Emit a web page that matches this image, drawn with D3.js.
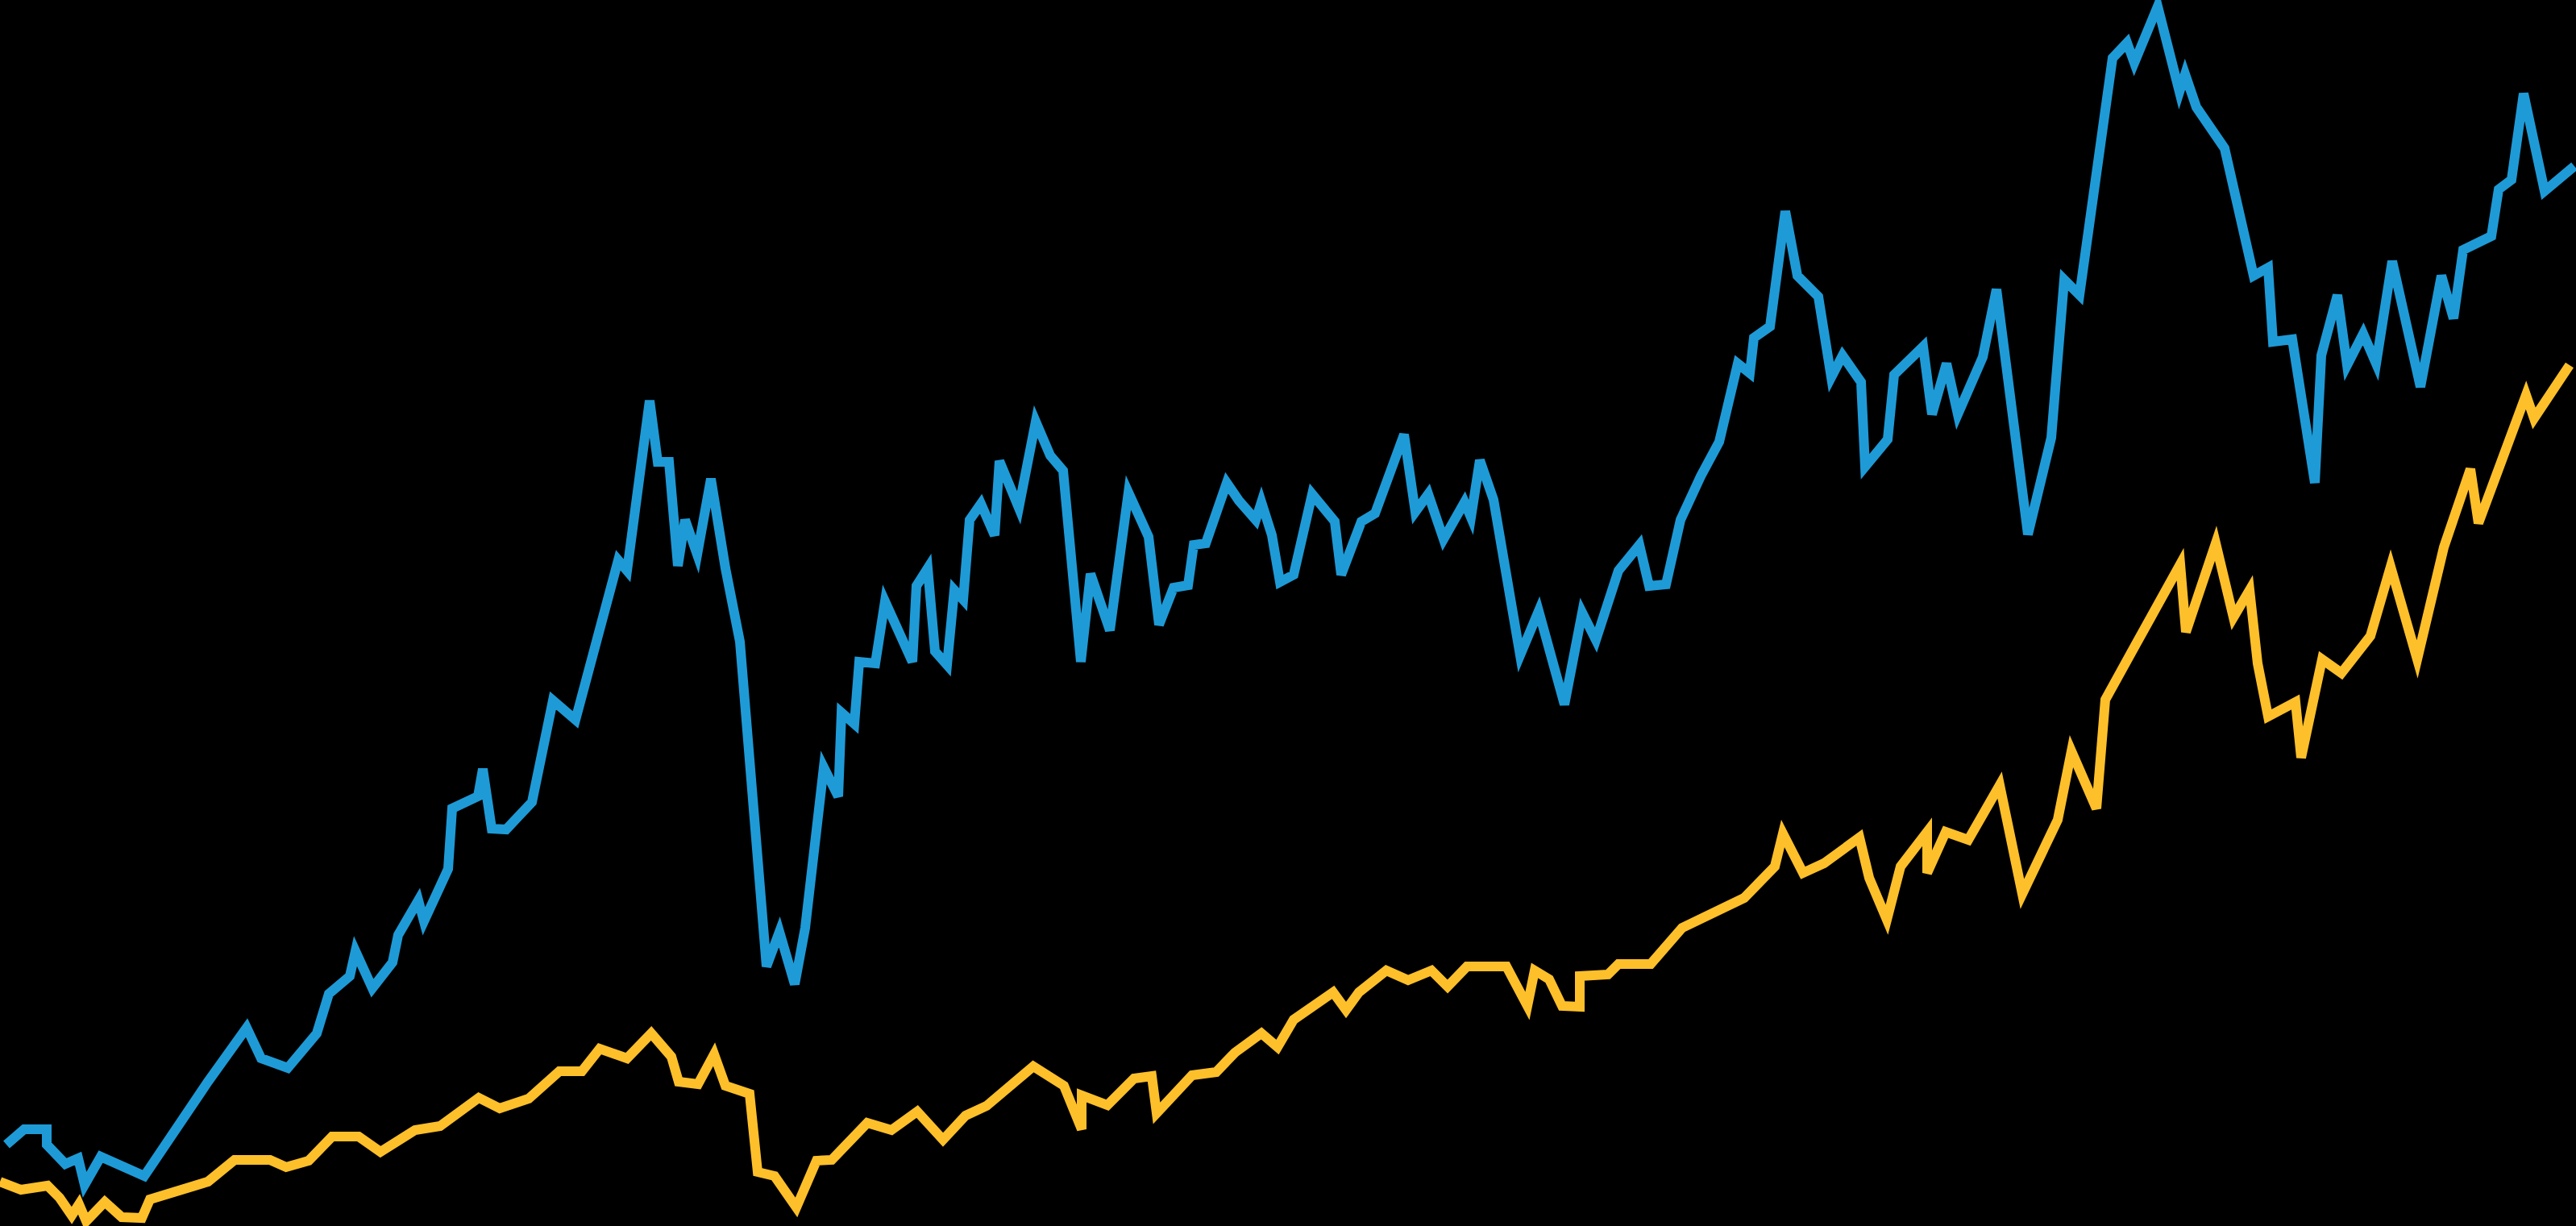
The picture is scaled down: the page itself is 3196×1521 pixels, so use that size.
<!DOCTYPE html>
<html>
<head>
<meta charset="utf-8">
<script src="https://cdn.jsdelivr.net/npm/d3@7"></script>
<style>
  html, body { margin: 0; padding: 0; background: #000; overflow: hidden; }
  svg { display: block; }
</style>
</head>
<body>
<svg id="chart"></svg>
<script>
// Time position (arbitrary period units) and value for each series
const blueSeries = [
  [0.8,10.1],[3.0,12.0],[5.8,12.0],[5.8,10.1],[8.1,7.7],[9.7,8.4],[10.5,5.1],[12.5,8.6],
  [17.9,6.2],[25.8,17.9],[30.6,24.6],[32.4,20.8],[35.7,19.6],[39.3,23.9],[40.8,28.8],
  [43.4,31.0],[44.1,34.1],[46.2,29.5],[48.7,32.7],[49.4,36.1],[51.9,40.4],[52.6,37.8],
  [55.6,44.3],[56.1,51.8],[59.3,53.3],[59.9,56.7],[61.0,49.3],[62.8,49.2],[66.0,52.6],
  [68.6,65.2],[71.4,62.8],[76.7,82.6],[77.8,81.3],[80.6,102.4],[81.6,94.8],[83.0,94.8],
  [84.1,81.9],[85.0,87.6],[86.5,83.3],[88.2,92.7],[90.0,81.6],[91.8,72.5],[95.1,32.2],
  [96.7,36.5],[98.6,30.0],[99.9,37.0],[102.2,56.9],[104.0,53.3],[104.4,63.7],[106.0,62.3],
  [106.6,70.0],[108.6,69.8],[109.8,77.5],[113.2,70.0],[113.7,79.4],[115.1,81.6],[116.0,71.3],
  [117.5,69.6],[118.4,78.9],[119.5,77.7],[120.3,87.6],[121.7,89.6],[123.4,85.7],[124.0,94.9],
  [126.4,89.1],[128.5,99.8],[130.3,95.6],[131.9,93.7],[134.1,70.0],[135.3,80.9],[137.7,73.9],
  [140.0,91.0],[142.5,85.5],[143.8,74.6],[145.6,79.2],[147.4,79.5],[148.1,84.5],[149.6,84.7],
  [152.2,92.2],[153.7,90.0],[155.8,87.6],[156.5,89.8],[157.8,85.7],[158.8,79.9],[160.5,80.8],
  [162.8,90.8],[165.6,87.4],[166.4,80.8],[168.9,87.4],[170.6,88.4],[174.2,98.2],[175.6,88.6],
  [177.2,90.8],[179.1,85.2],[181.7,89.8],[182.5,87.9],[183.6,95.0],[185.3,90.1],[188.6,70.8],
  [190.9,76.3],[194.1,64.7],[196.3,76.1],[198.0,72.7],[200.8,81.3],[203.4,84.5],[204.6,79.4],
  [206.7,79.6],[208.5,87.6],[211.0,93.0],[213.3,97.3],[215.6,107.0],[217.1,105.8],[217.6,110.2],
  [219.6,111.6],[221.5,125.9],[223.0,117.9],[225.6,115.3],[227.2,105.3],[228.6,108.0],[230.9,104.7],
  [231.4,94.2],[234.2,97.6],[235.0,105.6],[238.6,109.1],[239.7,100.7],[241.5,107.0],[242.9,100.7],
  [246.0,107.8],[247.7,116.2],[251.6,85.8],[254.5,97.8],[256.1,117.4],[258.0,115.5],[262.1,144.9],
  [263.9,146.8],[264.8,144.3],[267.7,151.3],[270.4,140.7],[271.1,142.9],[272.5,138.8],[276.0,133.7],
  [279.6,117.9],[281.4,118.9],[282.0,109.7],[284.4,110.0],[287.2,92.2],[288.0,108.0],[290.0,115.5],
  [291.2,106.8],[293.2,110.7],[294.8,107.0],[296.8,119.7],[300.3,104.1],[302.9,117.9],[304.4,112.6],
  [305.6,121.1],[309.1,122.8],[310.0,128.6],[311.6,129.8],[313.1,140.5],[315.7,128.4],[319.4,131.5]
];

const yellowSeries = [
  [0.0,5.5],[2.6,4.5],[5.9,5.0],[7.4,3.5],[8.9,1.3],[9.8,2.7],[10.7,0.6],[13.0,3.0],
  [15.1,1.1],[17.6,1.0],[18.6,3.3],[25.8,5.5],[29.1,8.2],[33.5,8.2],[35.5,7.3],[38.3,8.1],
  [41.2,11.1],[44.5,11.1],[47.2,9.2],[51.5,11.9],[54.6,12.4],[59.4,15.9],[62.0,14.6],[65.6,15.8],
  [69.4,19.2],[72.2,19.2],[74.4,22.0],[77.8,20.8],[80.8,23.9],[83.3,21.0],[84.2,17.9],[86.6,17.6],
  [88.6,21.3],[90.0,17.4],[93.0,16.4],[94.0,6.7],[96.1,6.2],[98.8,2.3],[101.3,8.1],[103.2,8.2],
  [107.6,12.8],[110.6,11.9],[113.8,14.2],[117.0,10.7],[119.8,13.7],[122.4,14.9],[128.2,19.8],
  [132.0,17.4],[134.2,12.0],[134.2,16.2],[137.4,15.0],[140.7,18.3],[142.9,18.6],[143.5,14.0],
  [147.9,18.7],[150.9,19.1],[153.2,21.5],[156.5,23.9],[158.5,22.2],[160.5,25.6],[165.4,29.0],
  [167.0,26.8],[168.6,29.0],[172.0,31.7],[174.7,30.5],[177.6,31.7],[179.6,29.7],[182.0,32.2],
  [186.9,32.2],[189.5,27.3],[190.4,31.7],[192.2,30.6],[193.8,27.3],[196.0,27.2],[196.0,31.0],
  [199.5,31.2],[200.8,32.5],[204.8,32.5],[208.7,37.0],[216.4,40.7],[220.2,44.6],[221.2,48.7],
  [223.7,43.8],[226.3,45.0],[230.7,48.2],[231.9,43.2],[234.1,38.0],[235.8,44.6],[239.1,48.9],
  [239.1,43.8],[241.4,48.9],[244.2,47.9],[248.1,54.7],[250.9,41.2],[255.3,50.4],[257.0,58.9],
  [260.1,51.8],[261.2,65.3],[264.9,72.0],[266.9,75.6],[270.5,82.1],[271.2,73.7],[274.9,84.7],
  [277.1,75.5],[279.1,78.9],[280.1,69.8],[281.4,63.2],[284.8,65.0],[285.5,58.1],[288.1,70.3],
  [290.5,68.6],[294.1,73.2],[296.6,81.8],[299.9,70.3],[303.2,84.2],[306.5,93.9],[307.5,87.2],
  [313.4,103.1],[314.4,100.2],[318.8,106.8]
];

const xDomain = [0, 319.6];
const yDomain = [0, 152.1];

const W = 3196, H = 1521;
const svg = d3.select("#chart").attr("width", W).attr("height", H);
svg.append("rect").attr("width", W).attr("height", H).attr("fill", "#000");

const x = d3.scaleLinear().domain(xDomain).range([0, W]);
const y = d3.scaleLinear().domain(yDomain).range([H, 0]);

const line = d3.line().x(d => x(d[0])).y(d => y(d[1]));

svg.append("path")
  .datum(yellowSeries)
  .attr("d", line)
  .attr("fill", "none")
  .attr("stroke", "#fec02a")
  .attr("stroke-width", 12)
  .attr("stroke-linejoin", "miter");

svg.append("path")
  .datum(blueSeries)
  .attr("d", line)
  .attr("fill", "none")
  .attr("stroke", "#1e9bd7")
  .attr("stroke-width", 12)
  .attr("stroke-linejoin", "miter");
</script>
</body>
</html>
